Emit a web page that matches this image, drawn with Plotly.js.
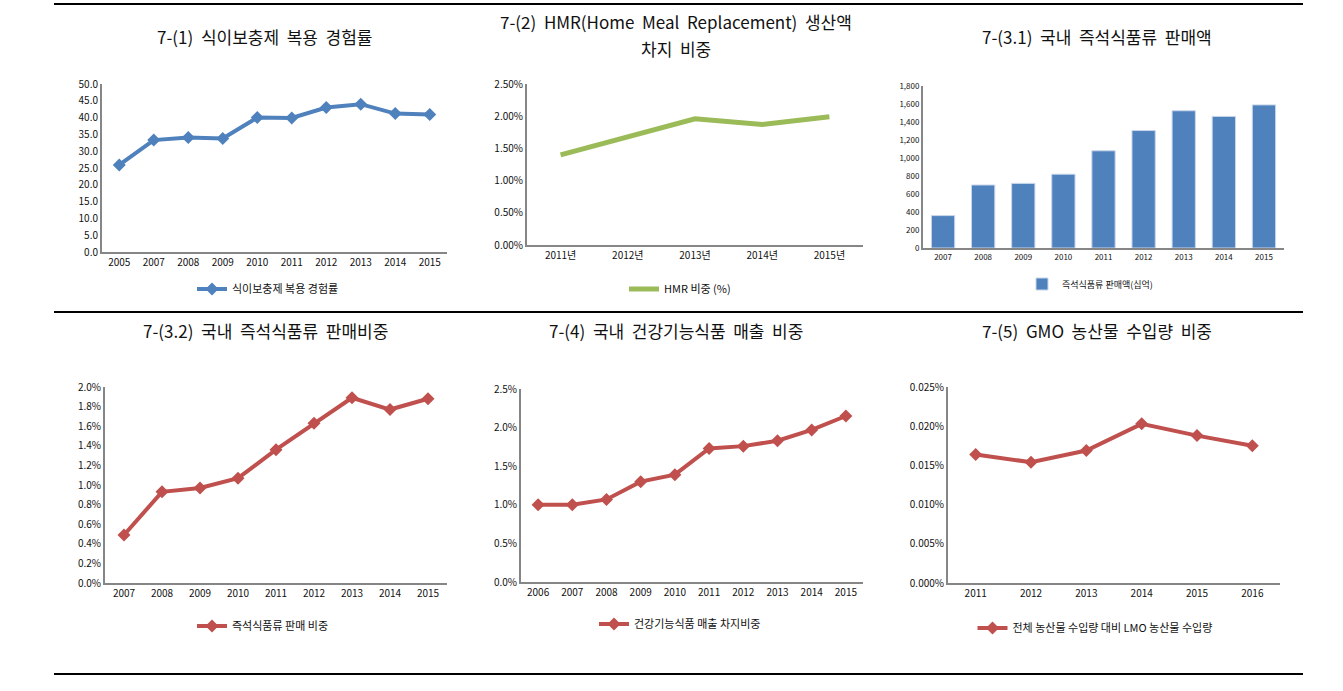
<!DOCTYPE html>
<html>
<head>
<meta charset="utf-8">
<script src="https://cdn.plot.ly/plotly-3.0.1.min.js"></script>
<style>html,body{margin:0;padding:0;background:#fff;}#chart{width:1343px;height:691px;}</style>
</head>
<body>
<div id="chart"></div>
<script>
// ---- Data ----
const years1 = ['2005','2007','2008','2009','2010','2011','2012','2013','2014','2015'];
const supplementRate = [25.9, 33.3, 34.1, 33.8, 40.0, 39.9, 43.0, 44.0, 41.2, 40.9];

const years2 = ['2011년','2012년','2013년','2014년','2015년'];
const hmrShare = [1.40, 1.68, 1.96, 1.87, 1.99];

const years3 = ['2007','2008','2009','2010','2011','2012','2013','2014','2015'];
const instantSales = [360, 700, 718, 820, 1080, 1305, 1525, 1462, 1590];

const years4 = ['2007','2008','2009','2010','2011','2012','2013','2014','2015'];
const instantShare = [0.49, 0.93, 0.97, 1.07, 1.36, 1.63, 1.89, 1.77, 1.88];

const years5 = ['2006','2007','2008','2009','2010','2011','2012','2013','2014','2015'];
const healthFoodShare = [1.00, 1.00, 1.07, 1.30, 1.39, 1.73, 1.76, 1.83, 1.97, 2.15];

const years6 = ['2011','2012','2013','2014','2015','2016'];
const lmoShare = [0.0164, 0.0154, 0.0169, 0.0203, 0.0188, 0.0175];

const titles = ['7-(1) 식이보충제 복용 경험률', '7-(2) HMR(Home Meal Replacement) 생산액', '차지 비중', '7-(3.1) 국내 즉석식품류 판매액',
                '7-(3.2) 국내 즉석식품류 판매비중', '7-(4) 국내 건강기능식품 매출 비중', '7-(5) GMO 농산물 수입량 비중'];
const legendNames = ['식이보충제 복용 경험률', 'HMR 비중 (%)', '즉석식품류 판매액(십억)', '즉석식품류 판매 비중', '건강기능식품 매출 차지비중', '전체 농산물 수입량 대비 LMO 농산물 수입량'];

// ---- Layout helpers ----
const W = 1343, H = 691;
const BLUE = '#4F81BD', RED = '#C0504D', GREEN = '#9BBB59', AX = '#868686';
const FONT = '"Noto Sans CJK KR", "Noto Sans", sans-serif';
const px = v => v / W;
const py = v => 1 - v / H;

function xax(x0, x1, anchor, n) {
  return {domain: [px(x0), px(x1)], anchor: anchor, type: 'category', range: [-0.5, n - 0.5],
    showline: true, linecolor: AX, linewidth: 2, showgrid: false, zeroline: false, ticks: '',
    tickfont: {family: FONT, size: 10, color: '#111'}, fixedrange: true};
}
function yax(y0, y1, anchor, range, dtick, fmt, suffix, fs) {
  return {domain: [py(y1), py(y0)], anchor: anchor, range: range, dtick: dtick, tickformat: fmt, ticksuffix: suffix || '',
    showline: true, linecolor: AX, linewidth: 2, showgrid: false, zeroline: false, ticks: '',
    tickfont: {family: FONT, size: fs || 10, color: '#111'}, fixedrange: true};
}

const lineStyle = (c) => ({color: c, width: 4});
const diamond = (c) => ({symbol: 'diamond', size: 10, color: c});

const data = [
  {type: 'scatter', mode: 'lines+markers', x: years1, y: supplementRate, name: legendNames[0], xaxis: 'x', yaxis: 'y',
   line: lineStyle(BLUE), marker: diamond(BLUE), legend: 'legend'},
  {type: 'scatter', mode: 'lines', x: years2, y: hmrShare, name: legendNames[1], xaxis: 'x2', yaxis: 'y2',
   line: {color: GREEN, width: 5}, legend: 'legend2'},
  {type: 'bar', x: years3, y: instantSales, name: legendNames[2], xaxis: 'x3', yaxis: 'y3',
   marker: {color: BLUE, line: {color: '#c9d6ea', width: 1}}, legend: 'legend3'},
  {type: 'scatter', mode: 'lines+markers', x: years4, y: instantShare, name: legendNames[3], xaxis: 'x4', yaxis: 'y4',
   line: lineStyle(RED), marker: diamond(RED), legend: 'legend4'},
  {type: 'scatter', mode: 'lines+markers', x: years5, y: healthFoodShare, name: legendNames[4], xaxis: 'x5', yaxis: 'y5',
   line: lineStyle(RED), marker: diamond(RED), legend: 'legend5'},
  {type: 'scatter', mode: 'lines+markers', x: years6, y: lmoShare, name: legendNames[5], xaxis: 'x6', yaxis: 'y6',
   line: lineStyle(RED), marker: diamond(RED), legend: 'legend6'}
];

function leg(cx, cy, fs) {
  return {x: px(cx), y: py(cy), xanchor: 'center', yanchor: 'middle', orientation: 'h', bgcolor: 'rgba(0,0,0,0)',
    font: {family: FONT, size: fs || 11, color: '#111'}, itemwidth: 30, tracegroupgap: 0};
}

const sp = t => t.split(' ').join('\u00a0\u00a0');
const titleAnn = (t, cx, cy) => ({text: sp(t), x: px(cx), y: py(cy), xref: 'paper', yref: 'paper', xanchor: 'center', yanchor: 'middle',
  showarrow: false, font: {family: FONT, size: 17, color: '#111'}});

const hline = (y) => ({type: 'line', xref: 'paper', yref: 'paper', x0: px(54), x1: px(1303), y0: py(y), y1: py(y),
  line: {color: '#000', width: 2}});

const layout = {
  width: W, height: H, margin: {l: 0, r: 0, t: 0, b: 0},
  paper_bgcolor: '#fff', plot_bgcolor: '#fff', showlegend: true, bargap: 0.42,
  xaxis: xax(102, 447, 'y', years1.length),
  yaxis: yax(84, 252, 'x', [0, 50], 5, '.1f'),
  xaxis2: xax(527, 863, 'y2', years2.length),
  yaxis2: yax(84, 245, 'x2', [0, 2.5], 0.5, '.2f', '%'),
  xaxis3: Object.assign(xax(923, 1284, 'y3', years3.length), {tickfont: {family: FONT, size: 8, color: '#111'}}),
  yaxis3: yax(86, 248, 'x3', [0, 1800], 200, ',d', '', 8),
  xaxis4: xax(105, 447, 'y4', years4.length),
  yaxis4: yax(387, 583, 'x4', [0, 2.0], 0.2, '.1f', '%'),
  xaxis5: xax(521, 863, 'y5', years5.length),
  yaxis5: yax(389, 582, 'x5', [0, 2.5], 0.5, '.1f', '%'),
  xaxis6: xax(948, 1280, 'y6', years6.length),
  yaxis6: yax(387, 583, 'x6', [0, 0.025], 0.005, '.3f', '%'),
  legend: leg(268, 289),
  legend2: leg(680, 289),
  legend3: leg(1090, 284, 9),
  legend4: leg(263, 626),
  legend5: leg(680, 624),
  legend6: leg(1095, 628),
  annotations: [
    titleAnn(titles[0], 265, 36), titleAnn(titles[1], 676, 21), titleAnn(titles[2], 676, 48), titleAnn(titles[3], 1097, 36),
    titleAnn(titles[4], 265, 330), titleAnn(titles[5], 676, 330), titleAnn(titles[6], 1097, 330)
  ],
  shapes: [hline(4), hline(312), hline(674)]
};

Plotly.newPlot('chart', data, layout, {displayModeBar: false, staticPlot: true});
</script>
</body>
</html>
